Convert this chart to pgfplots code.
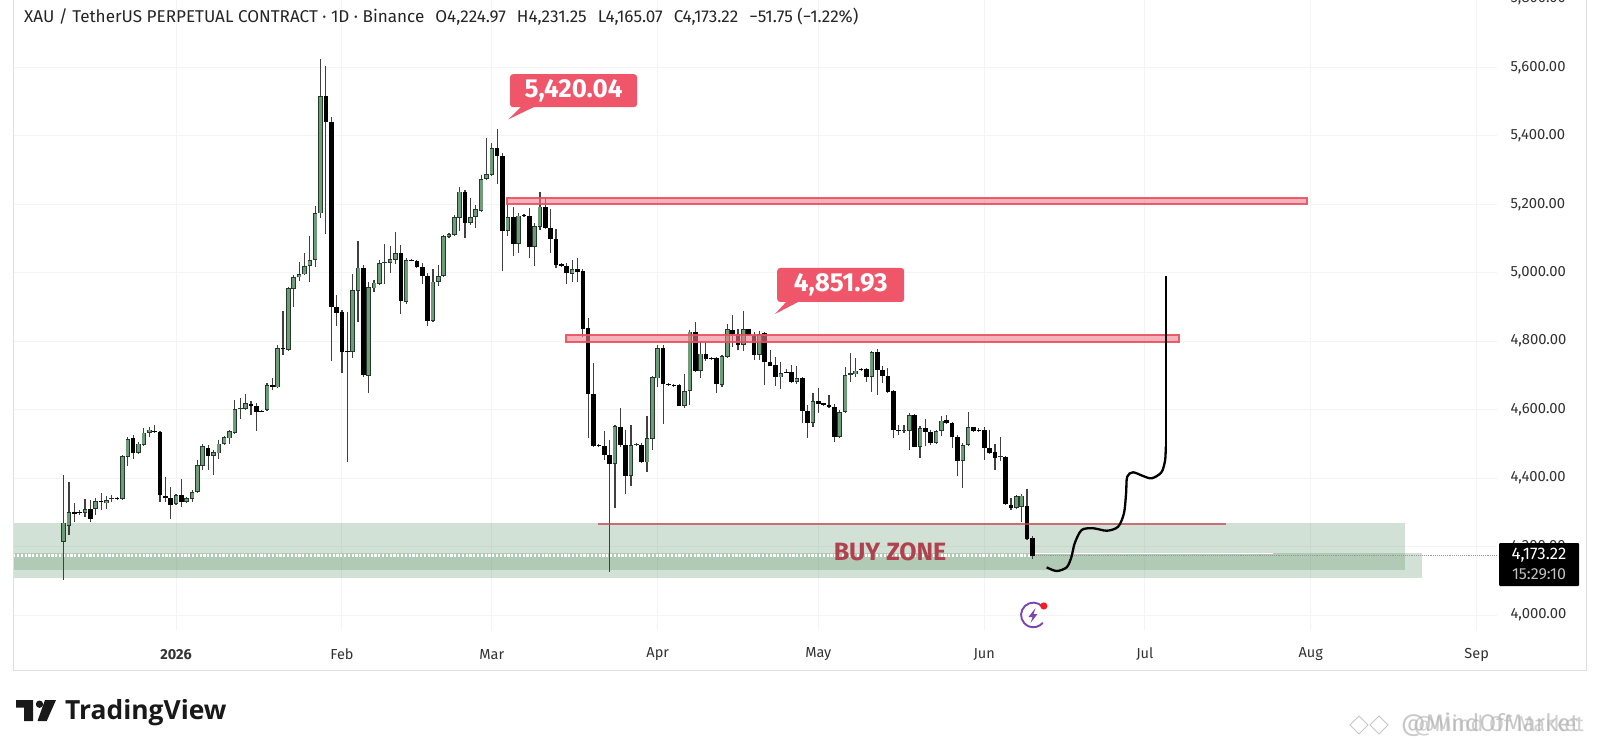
\documentclass[border=0pt]{standalone}
\usepackage{fontspec}
\setmainfont{Fira Sans}
\newfontfamily\logofont{Open Sans}
\usepackage{pgfplots}
\usepackage{pgfplotstable}
\pgfplotsset{compat=1.18}
\definecolor{zonegreen}{HTML}{478353}
\definecolor{redline}{HTML}{E8505F}
\definecolor{redfill}{HTML}{F0808C}
\definecolor{tag}{HTML}{F0566A}
\definecolor{upfill}{HTML}{6F9C78}
\definecolor{upedge}{HTML}{23392A}
\definecolor{gridc}{HTML}{F3F4F6}
\definecolor{labelc}{HTML}{333333}
\definecolor{buyc}{HTML}{B0424F}
\definecolor{iconc}{HTML}{7B45B5}
\pgfplotstableread{
d o h l c
-21 4214 4409 4102 4270
-20 4261 4388 4234 4302
-17 4299 4339 4285 4310
-15 4309 4341 4292 4332
-13 4326 4347 4311 4337
-12 4338 4350 4331 4342
-10 4340 4468 4338 4464
-9 4462 4519 4435 4514
-7 4474 4506 4472 4501
-6 4496 4545 4495 4533
-5 4533 4550 4519 4542
0 4324 4355 4321 4350
2 4331 4346 4328 4341
3 4339 4365 4331 4360
4 4360 4453 4358 4438
5 4435 4501 4423 4494
7 4464 4482 4409 4475
8 4472 4511 4455 4501
9 4499 4523 4497 4519
10 4516 4542 4501 4537
11 4533 4628 4531 4601
12 4601 4635 4572 4606
13 4602 4645 4599 4619
17 4599 4677 4597 4672
19 4665 4789 4662 4780
21 4774 4959 4772 4954
22 4952 4993 4901 4988
23 4986 5032 4975 4996
24 4995 5058 4992 5020
25 5019 5107 4974 5037
26 5037 5195 5017 5173
27 5173 5623 5161 5517
33 4769 4996 4750 4949
34 4946 5092 4855 5015
36 4699 4972 4650 4957
37 4954 4979 4944 4971
38 4967 5037 4964 5027
39 5027 5084 4966 5031
40 5029 5078 4998 5040
41 5037 5120 5024 5058
43 4915 5042 4910 5037
48 4860 5010 4859 4974
49 4974 5022 4962 4990
50 4990 5110 4988 5107
51 5105 5117 5103 5113
52 5110 5169 5107 5162
53 5159 5249 5123 5237
55 5146 5217 5139 5162
56 5162 5198 5132 5185
57 5181 5285 5178 5273
58 5273 5394 5271 5287
59 5285 5378 5283 5363
62 5123 5203 5107 5162
64 5084 5173 5058 5167
67 5076 5144 5020 5136
68 5134 5237 5125 5193
74 4996 5037 4972 5010
82 4441 4555 4312 4552
85 4406 4555 4377 4497
86 4497 4503 4495 4500
88 4446 4581 4419 4516
89 4514 4698 4482 4694
90 4691 4789 4667 4779
95 4612 4704 4604 4655
96 4655 4833 4613 4828
98 4713 4798 4691 4764
102 4672 4760 4667 4757
103 4755 4849 4752 4835
106 4789 4889 4772 4835
109 4760 4831 4745 4820
113 4694 4740 4660 4706
116 4682 4727 4674 4693
119 4562 4649 4548 4626
124 4521 4599 4519 4594
125 4594 4725 4591 4701
126 4701 4766 4682 4706
127 4703 4750 4696 4714
130 4696 4772 4652 4769
136 4537 4555 4531 4542
137 4539 4591 4482 4584
139 4492 4552 4458 4547
142 4504 4540 4503 4537
143 4537 4581 4523 4568
147 4450 4502 4370 4497
148 4497 4594 4494 4548
154 4461 4519 4451 4465
157 4314 4351 4311 4348
158 4316 4355 4273 4349
}\upcandles
\pgfplotstableread{
d o h l c
-19 4302 4328 4273 4294
-18 4300 4308 4292 4297
-16 4310 4336 4272 4282
-14 4334 4358 4307 4329
-11 4342 4345 4336 4339
-8 4516 4526 4455 4472
-4 4538 4555 4532 4534
-3 4536 4538 4330 4350
-2 4347 4404 4331 4341
-1 4341 4373 4282 4321
1 4350 4397 4316 4329
6 4489 4497 4425 4464
14 4617 4626 4584 4611
15 4611 4618 4538 4594
16 4597 4600 4592 4594
18 4671 4691 4657 4667
20 4780 4889 4759 4776
28 5517 5604 5112 5441
29 5441 5456 4743 4901
30 4901 4935 4844 4883
31 4884 4891 4706 4767
32 4772 4886 4447 4767
35 5015 5022 4696 4701
42 5058 5081 4879 4917
44 5038 5040 5033 5035
45 5035 5037 5013 5017
46 5017 5027 4967 4990
47 4990 4998 4844 4860
54 5237 5242 5100 5146
60 5363 5419 5259 5342
61 5342 5349 5005 5123
63 5162 5193 5050 5083
65 5168 5171 5163 5165
66 5167 5188 5042 5076
69 5193 5217 5129 5131
70 5131 5185 5059 5098
71 5098 5127 5013 5022
72 5024 5028 5016 5019
73 5019 5027 4966 4998
75 5010 5042 4974 5003
76 5004 5010 4813 4837
77 4839 4869 4516 4646
78 4646 4737 4492 4494
79 4497 4499 4492 4494
80 4494 4538 4453 4467
81 4469 4511 4127 4441
83 4550 4604 4492 4497
84 4497 4540 4355 4406
87 4497 4502 4445 4446
91 4779 4789 4558 4674
92 4676 4678 4670 4672
93 4672 4674 4667 4669
94 4672 4674 4610 4612
97 4828 4855 4711 4713
99 4764 4798 4742 4748
100 4752 4755 4746 4748
101 4750 4755 4648 4674
104 4833 4876 4782 4821
105 4820 4835 4774 4789
107 4835 4837 4816 4818
108 4818 4828 4745 4760
110 4823 4828 4672 4738
111 4740 4774 4727 4727
112 4730 4755 4669 4694
114 4711 4718 4706 4708
115 4709 4730 4679 4682
117 4693 4696 4560 4597
118 4597 4613 4518 4562
120 4626 4662 4589 4616
121 4618 4620 4612 4614
122 4614 4644 4606 4609
123 4609 4616 4506 4521
128 4719 4721 4714 4716
129 4718 4723 4680 4694
131 4769 4776 4643 4716
132 4716 4727 4677 4699
133 4699 4721 4649 4652
134 4654 4657 4518 4540
135 4542 4555 4526 4537
138 4584 4586 4490 4492
140 4545 4572 4494 4536
141 4536 4540 4497 4504
144 4570 4584 4558 4562
145 4562 4565 4487 4519
146 4521 4526 4406 4450
149 4548 4550 4536 4537
150 4542 4545 4535 4538
151 4542 4548 4453 4487
152 4487 4542 4470 4474
153 4475 4501 4424 4458
155 4463 4465 4321 4324
156 4322 4341 4307 4313
159 4319 4368 4219 4222
160 4224.97 4231.25 4165.07 4173.22
}\downcandles
\pgfplotsset{
  wicks/.style={draw=none,mark=none,forget plot,
    error bars/.cd,y dir=both,y explicit,error mark=none,
    error bar style={draw=#1,line width=1.15pt,solid}},
  bodies/.style 2 args={draw=none,mark=none,forget plot,
    error bars/.cd,y dir=plus,y explicit,error mark=none,
    error bar style={draw=#1,line width=#2,solid}},
}
\begin{document}
\begin{tikzpicture}
\useasboundingbox (0,0) rectangle (1600pt,750pt);
\fill[white] (0,0) rectangle (1600pt,750pt);
\begin{axis}[
  at={(13.3pt,120pt)},anchor=south west,scale only axis,
  width=1483.7pt,height=648.3pt,
  xmin=-30.4,xmax=246.8,ymin=3956.4,ymax=5850,
  axis line style={draw=none},
  major tick length=0pt,tick style={draw=none},
  grid=major,grid style={draw=gridc,line width=0.9pt},
  xtick={0,31,59,90,120,151,181,212,243},
  xticklabels={\textbf{2026},Feb,Mar,Apr,May,Jun,Jul,Aug,Sep},
  xticklabel style={font=\fontsize{14.5}{16}\selectfont,text=labelc,anchor=center,yshift=-24.5pt},
  ytick={4000,4200,4400,4600,4800,5000,5200,5400,5600,5800},
  yticklabels={{4,000.00},{4,200.00},{4,400.00},{4,600.00},{4,800.00},{5,000.00},{5,200.00},{5,400.00},{5,600.00},{5,800.00}},
  yticklabel pos=right,
  yticklabel style={font=\fontsize{14.8}{16}\selectfont,text=labelc,anchor=west,xshift=10pt},
  clip=true,
]
% buy zones
\addplot[draw=none,fill=zonegreen,fill opacity=.24,forget plot] coordinates {(-30.4,4270)(229.7,4270)(229.7,4133)(-30.4,4133)} -- cycle;
\addplot[draw=none,fill=zonegreen,fill opacity=.24,forget plot] coordinates {(-30.4,4180)(232.8,4180)(232.8,4108)(-30.4,4108)} -- cycle;
% last price line
\addplot[white,line width=2.2pt,dash pattern=on 2.2pt off 1.6pt,forget plot] coordinates {(-30.4,4174)(160,4174)};
\addplot[white,line width=1.6pt,forget plot] coordinates {(160,4180)(205,4180)};
\addplot[gray!80,line width=0.9pt,densely dotted,forget plot] coordinates {(160,4173.22)(246.8,4173.22)};
% candles
\addplot[wicks=black!75] table[x=d,y=o,y error plus expr=\thisrow{h}-\thisrow{o},y error minus expr=\thisrow{o}-\thisrow{l}] {\upcandles};
\addplot[wicks=black!75] table[x=d,y=o,y error plus expr=\thisrow{h}-\thisrow{o},y error minus expr=\thisrow{o}-\thisrow{l}] {\downcandles};
\addplot[bodies={upedge}{4.6pt}] table[x=d,y=o,y error plus expr=\thisrow{c}-\thisrow{o},y error minus expr=0] {\upcandles};
\addplot[bodies={upfill}{3pt}] table[x=d,y expr=\thisrow{o}+2.5,y error plus expr={max(\thisrow{c}-\thisrow{o}-5,0)},y error minus expr=0] {\upcandles};
\addplot[bodies={black}{4.6pt}] table[x=d,y=c,y error plus expr=\thisrow{o}-\thisrow{c},y error minus expr=0] {\downcandles};
% red levels
\addplot[draw=redline,line width=2pt,fill=redfill,fill opacity=.6,draw opacity=.9,forget plot] coordinates {(61.8,5219)(211.3,5219)(211.3,5202)(61.8,5202)} -- cycle;
\addplot[draw=redline,line width=2pt,fill=redfill,fill opacity=.6,draw opacity=.9,forget plot] coordinates {(72.9,4817)(187.3,4817)(187.3,4799)(72.9,4799)} -- cycle;
\addplot[draw=none,fill=buyc!60!redline,fill opacity=.75,forget plot] coordinates {(78.9,4270)(196.2,4270)(196.2,4264)(78.9,4264)} -- cycle;
% hand-drawn projection
\addplot[black,line width=2.3pt,smooth,tension=.5,forget plot] coordinates {
(162.65,4139.5)(164.5,4128.7)(166.4,4139.5)(167.3,4170.5)(167.9,4209.6)(169.2,4248.5)(171.4,4253.4)(173.9,4246.4)(176.0,4258)(177.1,4297.3)(177.5,4355.7)(177.7,4404)(178.8,4417)(180.7,4406)(182.3,4399.5)(184.1,4417)(184.8,4453)(184.9,4491.8)};
\addplot[black,line width=2.3pt,forget plot] coordinates {(184.9,4491.8)(184.9,4745)(184.9,4991)};
\end{axis}
\begin{scope}[shift={(0,750pt)},x=1pt,y=-1pt]
% frame
\draw[gridc!92!black,line width=.9pt] (13.3,0) -- (13.3,670) -- (1586,670) -- (1586,0);
% header
\node[anchor=west,text=black!85,inner sep=0pt,font=\fontsize{17.1}{19}\selectfont] at (24,17) {XAU / TetherUS PERPETUAL CONTRACT · 1D · Binance\hspace{11pt}O4,224.97\hspace{11pt}H4,231.25\hspace{11pt}L4,165.07\hspace{11pt}C4,173.22\hspace{11pt}−51.75 (−1.22\%)};
% callouts
\fill[tag] (508.3,119.4) -- (522,106) -- (536,106) -- cycle;
\node[fill=tag,rounded corners=3pt,text=white,inner sep=0pt,minimum width=127pt,minimum height=33pt,font=\fontsize{26}{28}\selectfont\bfseries] at (573.5,90.7) {\raisebox{-3.5pt}{5,420.04}};
\fill[tag] (775,314) -- (787,301) -- (800,301) -- cycle;
\node[fill=tag,rounded corners=3pt,text=white,inner sep=0pt,minimum width=127pt,minimum height=34pt,font=\fontsize{26}{28}\selectfont\bfseries] at (840.7,285) {\raisebox{-3.5pt}{4,851.93}};
% buy zone
\node[text=buyc,inner sep=0pt,font=\fontsize{25}{27}\selectfont\bfseries] at (890,552) {BUY ZONE};
% last price tag
\fill[black,rounded corners=1pt] (1499,543) rectangle (1579,586);
\node[text=white,inner sep=0pt,font=\fontsize{16.8}{18}\selectfont] at (1539,555) {4,173.22};
\node[text=black!25,inner sep=0pt,font=\fontsize{16}{18}\selectfont] at (1539,574) {15:29:10};
% icon
\draw[iconc,line width=1.9pt] (1042.5,606.7) arc[start angle=-42,end angle=-320,radius=12.3];
\fill[iconc] (1035.5,608) -- (1028.5,617) -- (1032.5,617) -- (1030.5,623) -- (1037.5,614) -- (1033.5,614) -- cycle;
\fill[red!70!tag] (1043.8,606) circle[radius=3.6];
% logo
\fill[black!90] (16,700) -- (33,700) -- (33,721) -- (24,721) -- (24,707.5) -- (16,707.5) -- cycle;
\fill[black!90] (39.5,704.2) circle[radius=3.7];
\fill[black!90] (45,700) -- (56,700) -- (46.7,721) -- (37.5,721) -- cycle;
\node[anchor=west,inner sep=0pt,text=black!90,font=\logofont\fontsize{26.4}{30}\selectfont\bfseries] at (65,713) {TradingView};
% watermark
\node[anchor=west,inner sep=0pt,text=black!30,opacity=.7,font=\fontsize{24}{26}\selectfont] at (1401,725) {@MindOfMarket};
\node[anchor=west,inner sep=0pt,text=black!30,opacity=.6,font=\fontsize{21.5}{26}\selectfont] at (1413,725) {@Mind Of Market};
\foreach \cx in {1359,1379}{\draw[black!22,line width=1pt] (\cx-9,725) -- (\cx,716) -- (\cx+9,725) -- (\cx,734) -- cycle;}
\end{scope}
\end{tikzpicture}
\end{document}
